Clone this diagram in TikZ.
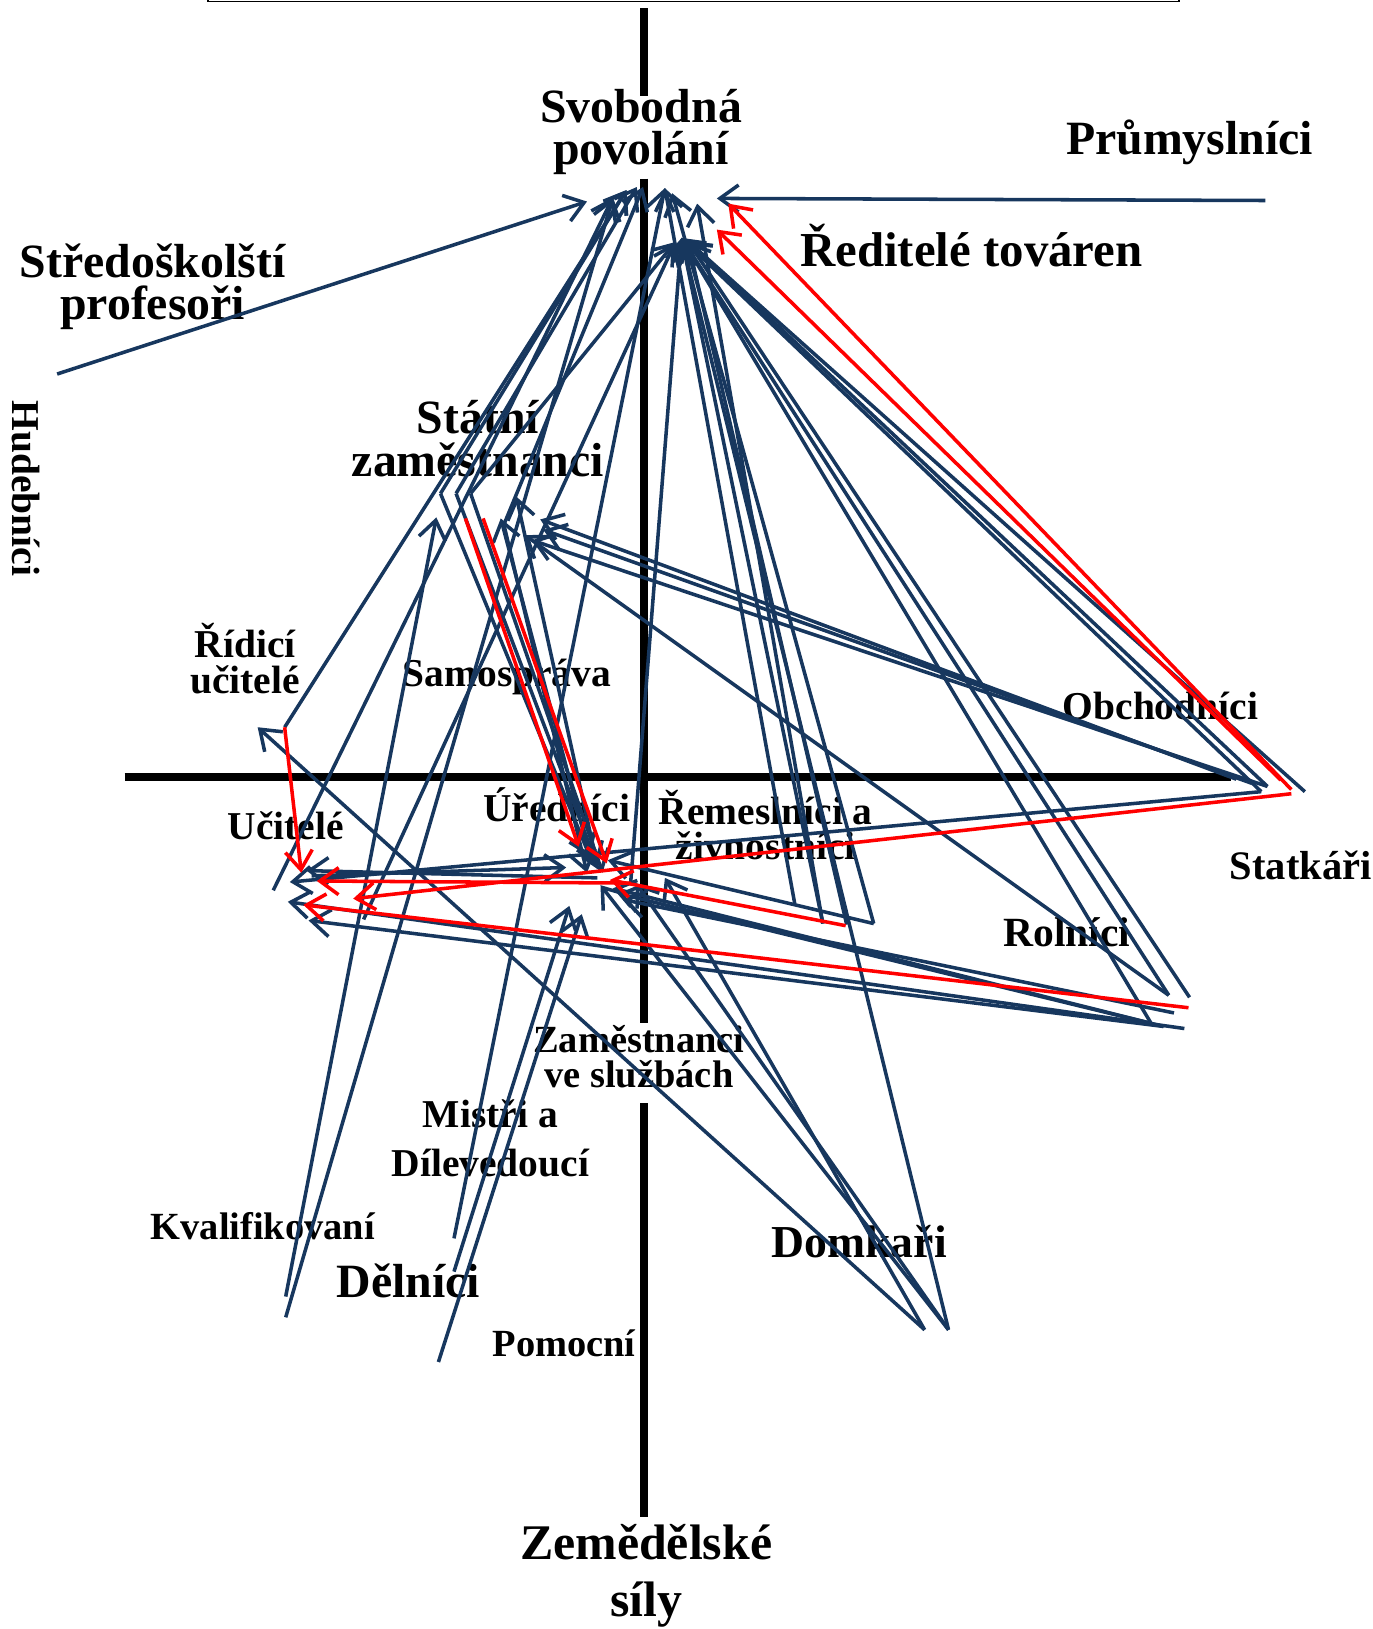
\documentclass[tikz,border=0pt]{standalone}
\usepackage{fontspec}
\setmainfont{Liberation Serif}
\usetikzlibrary{arrows.meta}
\definecolor{modra}{RGB}{23,55,94}

\tikzset{
  popis/.style={font=\fontsize{19}{17}\selectfont\bfseries, inner sep=0pt, align=center},
  popisvelky/.style={font=\fontsize{23}{20.5}\selectfont\bfseries, inner sep=0pt, align=center},
  osa/.style={line width=4pt, black},
  sipka/.style={modra, line width=1.7pt, -{Straight Barb[length=9pt,width=13pt]}},
  rsipka/.style={sipka, red},
}

\begin{document}
\begin{tikzpicture}[x=0.5pt, y=-0.5pt]
  \useasboundingbox (0,0) rectangle (1321,1568);
  % ramecek nahore
  \draw[line width=0.8pt] (200,-5) -- (200,1.5) -- (1135,1.5) -- (1135,-5);
  % osy
  \draw[osa] (620,8) -- (620,92);
  \draw[osa] (620,172) -- (620,985);
  \draw[osa] (620,1062) -- (620,1460);
  \draw[osa] (120,748) -- (1185,748);
  % popisky skupin
  \node[popisvelky] (svob) at (617,127) {Svobodná\\povolání};
  \node[popisvelky] (prum) at (1145,137) {Průmyslníci};
  \node[popisvelky, font=\fontsize{23.5}{20}\selectfont\bfseries] (redit) at (935,236) {Ředitelé továren};
  \node[popisvelky] (stred) at (147,276) {Středoškolští\\profesoři};
  \node[popis, rotate=-90] (hudeb) at (25,470) {Hudebníci};
  \node[popisvelky] (statni) at (460,422) {Státní\\zaměstnanci};
  \node[popis] (ridici) at (236,634) {Řídicí\\učitelé};
  \node[popis] (samos) at (488,652) {Samospráva};
  \node[popis] (obchod) at (1117,680) {Obchodníci};
  \node[popis] (ucit) at (275,795) {Učitelé};
  \node[popis] (uredn) at (536,775) {Úředníci};
  \node[popis] (remes) at (737,794) {Řemeslníci a\\živnostníci};
  \node[popis, font=\fontsize{19.5}{17}\selectfont\bfseries] (statk) at (1252,833) {Statkáři};
  \node[popis, font=\fontsize{20}{17}\selectfont\bfseries] (roln) at (1027,897) {Rolníci};
  \node[popis, font=\fontsize{18.5}{16.5}\selectfont\bfseries] (zames) at (615,1017) {Zaměstnanci\\ve službách};
  \node[popis, font=\fontsize{19}{23.5}\selectfont\bfseries] (mistri) at (472,1096) {Mistři a\\Dílevedoucí};
  \node[popis, font=\fontsize{18.5}{16}\selectfont\bfseries] (kvalif) at (253,1180) {Kvalifikovaní};
  \node[popisvelky] (delnici) at (393,1233) {Dělníci};
  \node[popis, font=\fontsize{18.5}{16}\selectfont\bfseries] (pomoc) at (543,1293) {Pomocní};
  \node[popisvelky, font=\fontsize{22}{19}\selectfont\bfseries] (domk) at (827,1195) {Domkaři};
  \node[popisvelky, font=\fontsize{24}{27.5}\selectfont\bfseries] (zemed) at (622,1517) {Zemědělské\\síly};
  % konce spoju
  \foreach \jm/\x/\y in {sva/565/194, svb/590/190, svc/603/183, svd/613/180, sve/619/180,
      svf/640/181, svg/647/186, svh/671/196, svi/690/191, svj/701/196, svk/690/221,
      rta/650/233, rtb/656/229, rtc/662/232, ssp/55/360, pru/1218/193,
      sta/1243/760, stb/1233/751, stc/1214/762, std/1256/762, ste/1190/750,
      stf/1205/754, stg/1220/757, sth/1243/764,
      rola/1145/960, rolb/1125/958, rolc/1108/985, rold/1144/970, role/1120/988,
      rolf/1140/990, rolg/1130/975,
      rema/765/870, remb/792/889, remc/815/890, remd/841/889, remr/814/891,
      doma/913/1280, domb/890/1280, dela/437/1192, delb/437/1224, delc/422/1311,
      kva/275/1248, kvb/275/1268, rid/274/700, ridh/248/700,
      uca/263/857, ucb/295/838, ucc/279/849, ucd/277/868, uce/297/886,
      ucf/340/865, ucg/305/848, uch/292/871, uci/290/840, ucj/300/843, uck/350/885,
      sza/420/498, szb/482/499, szc/497/478, szd/520/500, sze/523/510,
      szf/505/515, szg/512/520, szs1/424/475, szs2/439/475, szs3/453/475,
      szs4/448/499, szs5/465/499, szs6/485/505,
      ura/557/815, urb/584/831, urc/568/825, urd/575/833, ure/580/840,
      urf/587/847, urg/545/835, urh/548/872, uri/560/880, urj/590/855,
      urk/595/860, url/600/866, urm/578/852, urn/612/850, uro/640/845,
      urs/575/845, urt/607/850, uru/585/828, urv/565/840}
    \coordinate (\jm) at (\x,\y);
  % modre spoje
  \foreach \odkud/\kam in {ssp/sva, pru/svi, rid/svc, uca/svb, kvb/svb, dela/svf,
      szs1/svc, szs2/svd, szs6/sve, rema/svf, remd/svg, remb/svh,
      std/rtc, stc/rtb, stg/rtc, rola/rtc, rolb/rtb, rolc/rtb, remb/rtb, remc/rtc,
      doma/rtb, urt/rtb, szs3/rta, uck/rta,
      kva/sza, ste/szd, stf/sze, stg/szg, rolb/szf, urc/szb, urd/szc,
      szs1/urc, szs2/urd, szs3/ure, szs6/urv,
      urs/ucb, ucj/urg, role/uce, rolf/ucd, stc/ucc,
      rolc/urj, role/urk, rolg/url, remd/uru, delb/urh, delc/uri,
      doma/urm, doma/urn, domb/uro, domb/ridh}
    \draw[sipka] (\odkud) -- (\kam);
  % cervene spoje
  \foreach \odkud/\kam in {sta/svj, stb/svk, rid/uci, szs4/ura, szs5/urb,
      sth/ucf, urt/ucg, rold/uch, remr/urf}
    \draw[rsipka] (\odkud) -- (\kam);
\end{tikzpicture}
\end{document}
